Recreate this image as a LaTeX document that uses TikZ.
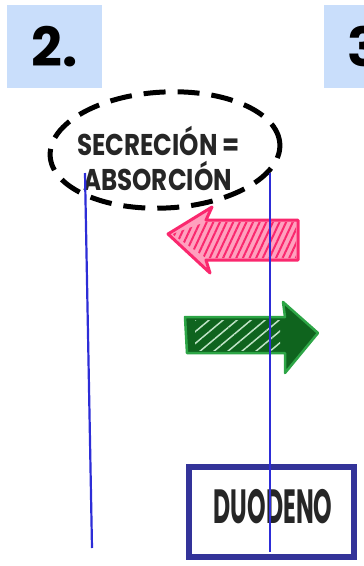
\documentclass[tikz,border=0pt]{standalone}
\usepackage{fontspec}
\setsansfont{Poppins}
\usetikzlibrary{
    shapes.geometric,
    positioning,
    patterns.meta
}
\definecolor{numblue}{RGB}{201,222,251}
\definecolor{wireblue}{RGB}{45,45,215}
\definecolor{boxblue}{RGB}{51,51,153}
\definecolor{hotpink}{RGB}{250,40,110}
\definecolor{pinkfill}{RGB}{255,160,190}
\definecolor{darkgreen}{RGB}{15,100,30}
\definecolor{lightgreen}{RGB}{45,165,70}
\tikzset{
    % Number tabs
    numbox/.style={
        rectangle,
        fill=numblue,
        minimum width=95pt,
        minimum height=83pt,
        inner sep=0pt,
        font=\sffamily\bfseries\fontsize{54}{54}\selectfont
    },
    % Hand-written labels
    handtext/.style={
        inner sep=0pt,
        font=\sffamily\bfseries\fontsize{30}{30}\selectfont,
        text=black!85,
        xscale=0.82
    },
    % Dashed ring
    dashring/.style={
        ellipse,
        draw=black,
        line width=5pt,
        dash pattern=on 22pt off 12pt,
        minimum width=230pt,
        minimum height=116pt
    },
    % Vertical wires
    wire/.style={
        draw=wireblue,
        line width=2.2pt
    },
    % Organ box
    organbox/.style={
        rectangle,
        draw=boxblue,
        line width=6pt,
        minimum width=165pt,
        minimum height=90pt
    },
    % Flux arrows
    pinkflux/.style={
        draw=hotpink,
        line width=3pt,
        line join=round,
        fill=pinkfill
    },
    greenflux/.style={
        draw=lightgreen,
        line width=2.5pt,
        line join=round,
        fill=darkgreen
    }
}

\begin{document}
\begin{tikzpicture}[x=1pt, y=-1pt]

    \useasboundingbox (0,0) rectangle (364,566);
    \clip (0,0) rectangle (364,566);

    % Number tabs
    \node[numbox] (tabtwo) at (54.5,46.5) {2.};
    \node[numbox] (tabthree) at (371.5,46.5) {3.};

    % Balance ring
    \node[dashring, rotate=3] (ring) at (165,150) {};
    \node[handtext, anchor=west] (secr) at (77,141) {SECRECIÓN =};
    \node[handtext, anchor=west] (absr) at (83,176) {ABSORCIÓN};

    % Secretion arrow (to the lumen)
    \path[pinkflux] (298,220) -- (206,220) -- (212,207) -- (168,234)
        -- (210,273) -- (206,260) -- (298,260) -- cycle;
    \path[pattern={Lines[angle=65, distance=6pt, line width=2pt]}, pattern color=hotpink]
        (296,222) -- (206,222) -- (172,234) -- (206,258) -- (296,258) -- cycle;

    % Absorption arrow (to the blood)
    \path[greenflux] (185,317) -- (285,317) -- (283,302) -- (318,333)
        -- (285,373) -- (285,353) -- (187,353) -- cycle;
    \path[pattern={Lines[angle=40, distance=9pt, line width=1.5pt]}, pattern color=white!70!lightgreen]
        (195,320) -- (280,320) -- (280,350) -- (195,350) -- cycle;

    % Duodenum
    \node[organbox] (duod) at (271,511.5) {};
    \node[handtext, font=\sffamily\bfseries\fontsize{48}{48}\selectfont, xscale=0.6] (duodtext) at (273,507) {DUODENO};

    % Wires
    \coordinate (ltop) at (85,173);
    \coordinate (lbot) at (92,548);
    \coordinate (rtop) at (270,173);
    \coordinate (rbot) at (270,552);
    \draw[wire] (ltop) -- (lbot);
    \draw[wire] (rtop) -- (rbot);

\end{tikzpicture}
\end{document}
